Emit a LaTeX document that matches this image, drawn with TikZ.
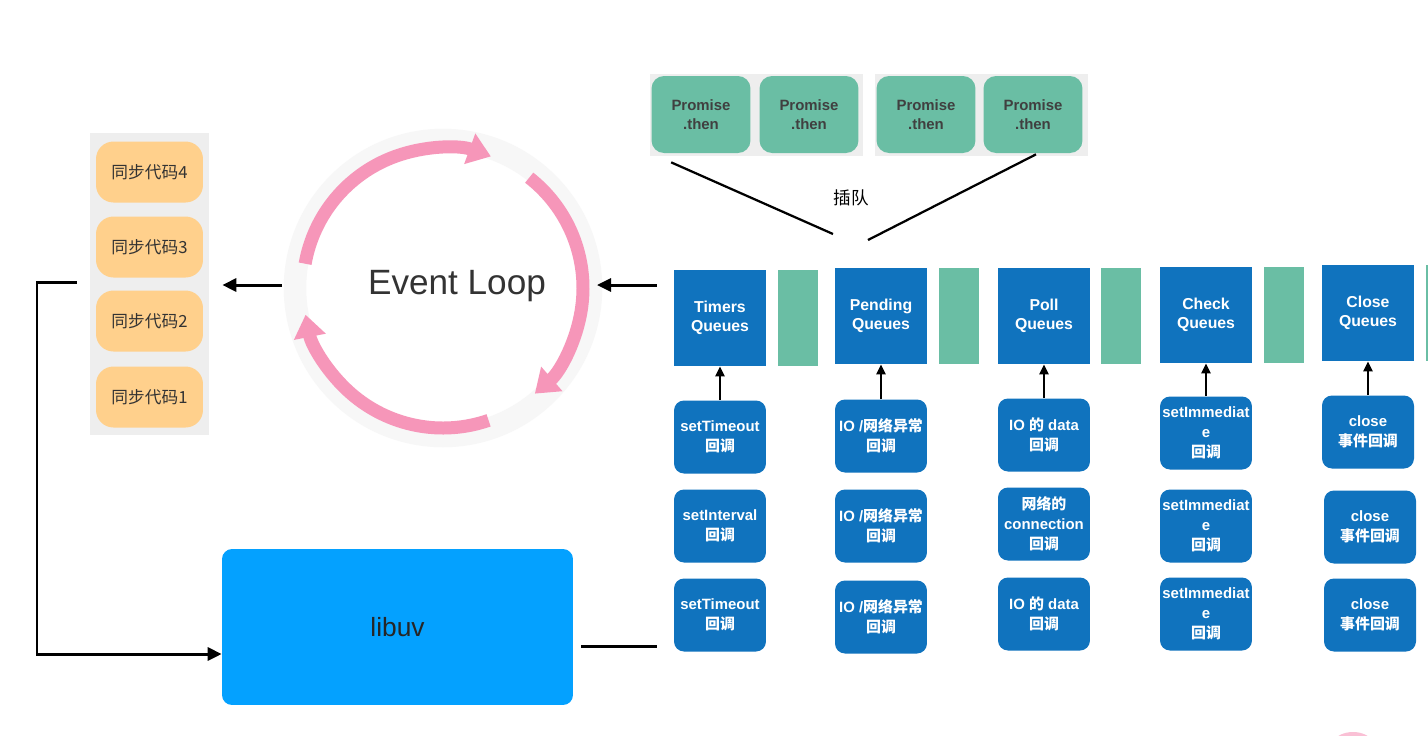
\documentclass[tikz,border=0pt]{standalone}
\usepackage{fontspec}
\setmainfont{Liberation Sans}
\newfontfamily\cjk{Noto Sans CJK SC}
\usepackage{tikz}
\usetikzlibrary{arrows.meta,positioning}
\definecolor{syncorange}{RGB}{255,208,140}
\definecolor{panelgray}{RGB}{238,238,238}
\definecolor{promteal}{RGB}{106,190,164}
\definecolor{queueblue}{RGB}{16,115,190}
\definecolor{libuvblue}{RGB}{4,161,255}
\definecolor{looppink}{RGB}{246,150,185}

\begin{document}
\begin{tikzpicture}[
    x=0.02cm,
    y=-0.02cm,
    >={Triangle[length=0.28cm,width=0.26cm]},
    syncbox/.style={fill=syncorange, rounded corners=0.35cm,
        minimum width=2.14cm, minimum height=1.22cm,
        font=\cjk\fontsize{9.5}{12}\selectfont, text=black!80},
    promisebox/.style={fill=promteal, rounded corners=0.25cm,
        minimum width=1.98cm, minimum height=1.54cm, align=center,
        font=\bfseries\fontsize{8.5}{10.5}\selectfont, text=black!75},
    queuebox/.style={fill=queueblue, minimum width=1.84cm, minimum height=1.92cm,
        align=center, text=white, font=\bfseries\fontsize{9}{11}\selectfont},
    gapstrip/.style={fill=promteal, minimum width=0.8cm, minimum height=1.92cm},
    cbbox/.style={fill=queueblue, rounded corners=0.2cm, inner sep=1pt,
        minimum width=1.84cm, minimum height=1.46cm, align=center,
        text=white, font=\bfseries\fontsize{8.5}{11.5}\selectfont},
    upline/.style={->, line width=0.05cm, >={Triangle[length=0.2cm,width=0.18cm]}},
    blackline/.style={line width=0.06cm}
]

\clip (0,0) rectangle (1428,735);
\fill[white] (0,0) rectangle (1428,735);

% Sync code stack
\node[fill=panelgray, minimum width=2.38cm, minimum height=6.04cm] (syncpanel) at (149.5,284) {};
\node[syncbox] (sync4) at (149.5,172) {同步代码4};
\node[syncbox] (sync3) at (149.5,247) {同步代码3};
\node[syncbox] (sync2) at (149.5,321) {同步代码2};
\node[syncbox] (sync1) at (149.5,397) {同步代码1};

% Event loop ring
\coordinate (loopc) at (443,288);
\draw[black!3, line width=0.45cm] (loopc) circle[radius=148];
\begin{scope}[looppink, line width=0.26cm, -{Triangle[length=0.45cm,width=0.62cm]}]
\draw (loopc) ++(190:140) arc[start angle=190, end angle=290, radius=140];
\draw (loopc) ++(-52:140) arc[start angle=-52, end angle=49, radius=140];
\draw (loopc) ++(71:140) arc[start angle=71, end angle=169, radius=140];
\end{scope}
\node[font=\fontsize{20}{24}\selectfont, text=black!80] (looptext) at (457,286) {Event Loop};
\coordinate (loopwest) at (282,285);
\coordinate (loopeast) at (597,285);

% Promise.then microtasks
\fill[panelgray] (650,74) rectangle (863,156);
\fill[panelgray] (875,74) rectangle (1088,156);
\node[promisebox] (prom1) at (701,114.5) {Promise\\.then};
\node[promisebox] (prom2) at (809,114.5) {Promise\\.then};
\node[promisebox] (prom3) at (926,114.5) {Promise\\.then};
\node[promisebox] (prom4) at (1033,114.5) {Promise\\.then};

\coordinate (cutl) at (833,234);
\coordinate (cutr) at (868,240);
\node[font=\cjk\fontsize{10}{12}\selectfont] (cutlabel) at (851,198) {插队};
\draw[line width=0.045cm] ([shift={(20,9)}]prom1.south west) -- (cutl);
\draw[line width=0.045cm] ([shift={(3,1)}]prom4.south) -- (cutr);

% Phase queues
\node[queuebox] (timers)  at (720,318)  {Timers\\Queues};
\node[queuebox] (pending) at (881,316)  {Pending\\Queues};
\node[queuebox] (poll)    at (1044,316) {Poll\\Queues};
\node[queuebox] (check)   at (1206,315) {Check\\Queues};
\node[queuebox] (closeq)  at (1368,313) {Close\\Queues};

\node[gapstrip] (timersgap)  at (798,318)  {};
\node[gapstrip] (pendinggap) at (959,316)  {};
\node[gapstrip] (pollgap)    at (1121,316) {};
\node[gapstrip] (checkgap)   at (1284,315) {};
\node[gapstrip] (closegap)   at (1446,313) {};

% Callbacks
\node[cbbox] (timersa) at (720,437) {setTimeout\\{\cjk 回调}};
\node[cbbox] (timersb) at (720,526) {setInterval\\{\cjk 回调}};
\node[cbbox] (timersc) at (720,615) {setTimeout\\{\cjk 回调}};

\node[cbbox] (pendinga) at (881,436) {IO /{\cjk 网络异常}\\{\cjk 回调}};
\node[cbbox] (pendingb) at (881,526) {IO /{\cjk 网络异常}\\{\cjk 回调}};
\node[cbbox] (pendingc) at (881,617) {IO /{\cjk 网络异常}\\{\cjk 回调}};

\node[cbbox] (polla) at (1044,435) {IO {\cjk 的} data\\{\cjk 回调}};
\node[cbbox] (pollb) at (1044,524) {{\cjk 网络的}\\connection\\{\cjk 回调}};
\node[cbbox] (pollc) at (1044,614) {IO {\cjk 的} data\\{\cjk 回调}};

\node[cbbox] (checka) at (1206,433) {setImmediat\\e\\{\cjk 回调}};
\node[cbbox] (checkb) at (1206,526) {setImmediat\\e\\{\cjk 回调}};
\node[cbbox] (checkc) at (1206,614) {setImmediat\\e\\{\cjk 回调}};

\node[cbbox] (closea) at (1368,432) {close\\{\cjk 事件回调}};
\node[cbbox] (closeb) at (1370,527) {close\\{\cjk 事件回调}};
\node[cbbox] (closec) at (1370,615) {close\\{\cjk 事件回调}};

\draw[upline] (timersa) -- (timers);
\draw[upline] (pendinga) -- (pending);
\draw[upline] (polla) -- (poll);
\draw[upline] (checka) -- (check);
\draw[upline] (closea) -- (closeq);

% libuv
\node[fill=libuvblue, rounded corners=0.2cm, minimum width=7.02cm, minimum height=3.12cm,
    font=\fontsize{15}{18}\selectfont, text=black!85] (libuv) at (397.5,627) {libuv};

% Connectors
\coordinate (bendtop) at (37,282);
\coordinate (bendbot) at (37,654);
\coordinate (libuvout) at (657,646);

\draw[->, blackline] (loopwest) -- ([xshift=0.26cm]syncpanel.east |- loopwest);
\draw[->, blackline] (timers.west |- loopeast) ++(-17,0) -- (loopeast);
\draw[->, blackline] (syncpanel.west |- bendtop) ++(-13,0) -- (bendtop) -- (bendbot) -- (libuv.west |- bendbot);
\draw[blackline] (libuv.east |- libuvout) ++(8,0) -- (libuvout);

% corner remnant
\fill[looppink!60] (1353,762) circle[radius=30];
\end{tikzpicture}
\end{document}
